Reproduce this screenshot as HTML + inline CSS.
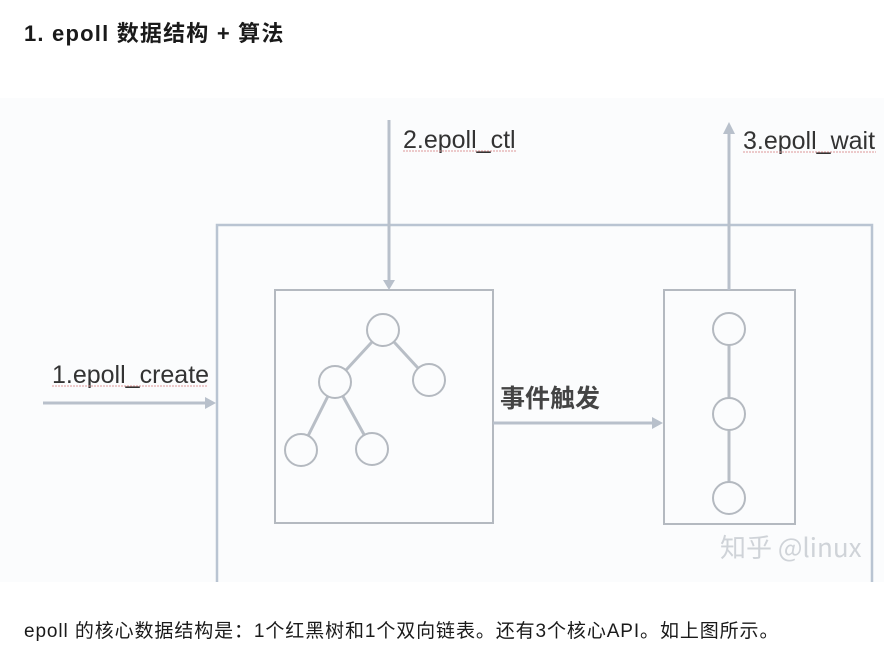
<!DOCTYPE html>
<html><head><meta charset="utf-8"><style>
body{margin:0;width:896px;height:666px;background:#fff;overflow:hidden;position:relative;font-family:"Liberation Sans","Noto Sans CJK SC",sans-serif}
.t{position:absolute;left:24px;top:16px;font-size:22px;font-weight:bold;color:#1a1a1a;white-space:nowrap;letter-spacing:1.2px}
.b{position:absolute;left:24px;top:616px;font-size:19px;color:#1a1a1a;white-space:nowrap;letter-spacing:0.9px}
svg{position:absolute;left:0;top:0}
</style></head><body>
<div class="t">1. epoll 数据结构 + 算法</div>
<svg width="896" height="666">
<rect x="0" y="98" width="884" height="484" fill="#fbfcfd"/>
<g fill="none" stroke="#b9c4d2" stroke-width="2.5">
<polyline points="217,582 217,225 872,225 872,582"/>
</g>
<g fill="none" stroke="#b4b9c0" stroke-width="2">
<rect x="275" y="290" width="218" height="233"/>
<rect x="664" y="290" width="131" height="234"/>
</g>
<g stroke="#b8c0cb" stroke-width="3" fill="#b8c0cb">
<line x1="389" y1="120" x2="389" y2="282"/><polygon points="383,280 395,280 389,290" stroke="none"/>
<line x1="729" y1="290" x2="729" y2="132"/><polygon points="723,134 735,134 729,122" stroke="none"/>
<line x1="43" y1="403" x2="208" y2="403"/><polygon points="205,397 205,409 216,403" stroke="none"/>
<line x1="493" y1="423" x2="655" y2="423"/><polygon points="652,417 652,429 663,423" stroke="none"/>
</g>
<g stroke="#b8bec6" stroke-width="3">
<line x1="383" y1="330" x2="335" y2="382"/><line x1="383" y1="330" x2="429" y2="380"/>
<line x1="335" y1="382" x2="301" y2="450"/><line x1="335" y1="382" x2="372" y2="449"/>
<line x1="729" y1="329" x2="729" y2="498"/>
</g>
<g fill="#fbfcfd" stroke="#b4b9c0" stroke-width="2">
<circle cx="383" cy="330" r="16"/><circle cx="335" cy="382" r="16"/><circle cx="429" cy="380" r="16"/>
<circle cx="301" cy="450" r="16"/><circle cx="372" cy="449" r="16"/>
<circle cx="729" cy="329" r="16"/><circle cx="729" cy="414" r="16"/><circle cx="729" cy="498" r="16"/>
</g>
<g font-family="Liberation Sans, sans-serif" font-size="25" fill="#333">
<text x="403" y="148">2.epoll_ctl</text>
<text x="743" y="149">3.epoll_wait</text>
<text x="52" y="383">1.epoll_create</text>
</g>
<g stroke="#d99" stroke-width="1" stroke-dasharray="2,1">
<line x1="403" y1="151" x2="516" y2="151"/><line x1="743" y1="152" x2="876" y2="152"/><line x1="52" y1="386" x2="208" y2="386"/>
</g>
<text x="500" y="407" font-family="Noto Sans CJK SC, sans-serif" font-size="25" font-weight="bold" fill="#444">事件触发</text>
<text x="720" y="557" font-family="Noto Sans CJK SC, sans-serif" font-size="26" fill="#cfd3d8">知乎 @linux</text>
</svg>
<div class="b">epoll 的核心数据结构是：1个红黑树和1个双向链表。还有3个核心API。如上图所示。</div>
</body></html>
